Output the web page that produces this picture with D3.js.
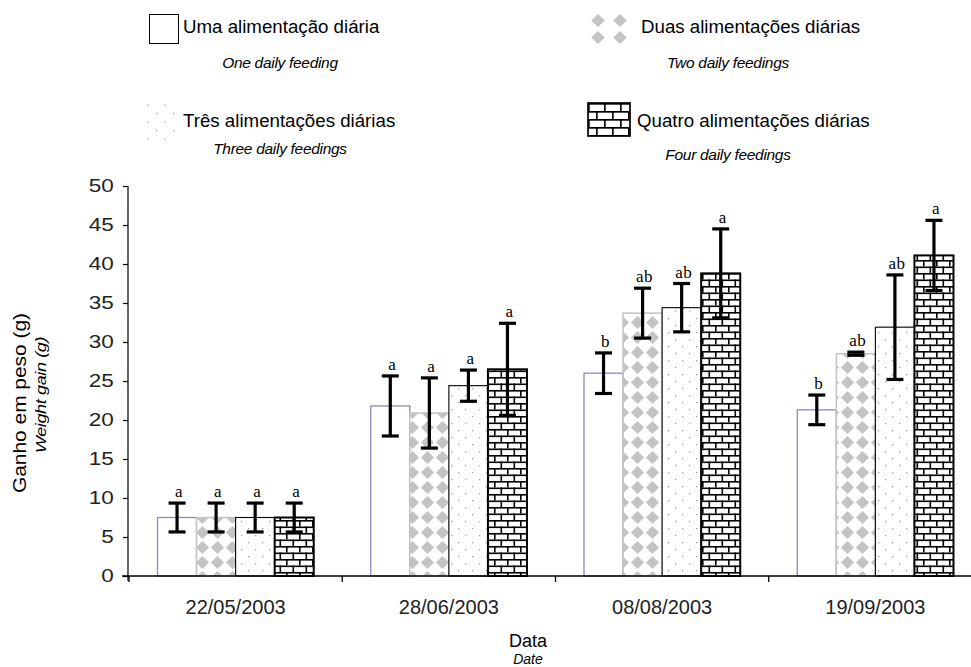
<!DOCTYPE html>
<html>
<head>
<meta charset="utf-8">
<script src="https://cdn.jsdelivr.net/npm/d3@7/dist/d3.min.js"></script>
<style>
  html, body { margin: 0; padding: 0; background: #fff; }
  svg text { font-family: "Liberation Sans", Arial, sans-serif; }
</style>
</head>
<body>
<svg id="chart" width="971" height="667"></svg>
<script>
// ---------- data ----------
const dates = ["22/05/2003", "28/06/2003", "08/08/2003", "19/09/2003"];
const seriesKeys = ["uma", "duas", "tres", "quatro"];
const seriesPT = ["Uma alimentação diária", "Duas alimentações diárias", "Três alimentações diárias", "Quatro alimentações diárias"];
const seriesEN = ["One daily feeding", "Two daily feedings", "Three daily feedings", "Four daily feedings"];

const umaMean    = [7.5, 21.8, 26.0, 21.3];
const duasMean   = [7.5, 20.9, 33.7, 28.5];
const tresMean   = [7.5, 24.4, 34.4, 31.9];
const quatroMean = [7.5, 26.5, 38.8, 41.1];

const umaErr    = [1.85, 3.85, 2.6, 1.9];
const duasErr   = [1.85, 4.5, 3.2, 0.2];
const tresErr   = [1.85, 2.0, 3.1, 6.7];
const quatroErr = [1.85, 5.9, 5.7, 4.5];

const umaLetters    = ["a", "a", "b", "b"];
const duasLetters   = ["a", "a", "ab", "ab"];
const tresLetters   = ["a", "a", "ab", "ab"];
const quatroLetters = ["a", "a", "a", "a"];

const yTicks = [0, 5, 10, 15, 20, 25, 30, 35, 40, 45, 50];

// ---------- build table ----------
const means = [umaMean, duasMean, tresMean, quatroMean];
const errs = [umaErr, duasErr, tresErr, quatroErr];
const letters = [umaLetters, duasLetters, tresLetters, quatroLetters];
const rows = [];
dates.forEach((d, i) => {
  seriesKeys.forEach((k, j) => {
    rows.push({ date: d, key: k, si: j, value: means[j][i], err: errs[j][i], letter: letters[j][i] });
  });
});

const svg = d3.select("#chart");
const defs = svg.append("defs");

// patterns
function pat(id, w, h, ox, oy) {
  const p = defs.append("pattern").attr("id", id).attr("patternUnits", "userSpaceOnUse")
    .attr("width", w).attr("height", h).attr("x", ox || 0).attr("y", oy || 0);
  p.append("rect").attr("width", w).attr("height", h).attr("fill", "#fff");
  return p;
}
// diamonds (rotated checkerboard)
{
  const p = pat("diam", 15, 15, 0, 0);
  const s = 6.6, c = 7.5;
  p.append("path").attr("d", `M${c},${c - s} L${c + s},${c} L${c},${c + s} L${c - s},${c} Z`).attr("fill", "#c4c4c4");
}
// sparse dots
{
  const p = pat("dots", 14, 14, 0, 0);
  p.append("rect").attr("x", 3).attr("y", 3).attr("width", 1.3).attr("height", 1.3).attr("fill", "#a0a0a0");
  p.append("rect").attr("x", 10).attr("y", 10).attr("width", 1.3).attr("height", 1.3).attr("fill", "#a0a0a0");
}
// bricks
function brick(id, w, h, ox, oy, sw) {
  const p = pat(id, w, h, ox, oy);
  const g = p.append("g").attr("stroke", "#000").attr("stroke-width", sw).attr("fill", "none");
  g.append("line").attr("x1", 0).attr("x2", w).attr("y1", sw / 2).attr("y2", sw / 2);
  g.append("line").attr("x1", 0).attr("x2", w).attr("y1", h / 2 + sw / 2).attr("y2", h / 2 + sw / 2);
  g.append("line").attr("x1", sw / 2).attr("x2", sw / 2).attr("y1", 0).attr("y2", h / 2);
  g.append("line").attr("x1", w / 2 + sw / 2).attr("x2", w / 2 + sw / 2).attr("y1", h / 2).attr("y2", h);
}
brick("bricks", 13, 13, 0, 0, 1.6);
brick("bricksLeg", 16, 16, 588, 103, 1.7);
// legend diamonds
{
  const p = pat("diamLeg", 22, 17, 587, 12);
  p.append("path").attr("d", "M11,2 L17.8,8.5 L11,15 L4.2,8.5 Z").attr("fill", "#c4c4c4");
}
// legend dots
{
  const p = pat("dotsLeg", 17, 17, 147, 104);
  p.append("rect").attr("x", 0.5).attr("y", 0.5).attr("width", 1.3).attr("height", 1.3).attr("fill", "#a8a8a8");
  p.append("rect").attr("x", 9).attr("y", 9).attr("width", 1.3).attr("height", 1.3).attr("fill", "#a8a8a8");
}

const fills = { uma: "#ffffff", duas: "url(#diam)", tres: "url(#dots)", quatro: "url(#bricks)" };
const strokes = { uma: "#8a8abf", duas: "#c4c4c4", tres: "#000", quatro: "#000" };
const strokeW = { uma: 1.3, duas: 1.5, tres: 1.1, quatro: 2 };

// ---------- scales ----------
const y = d3.scaleLinear().domain([0, 50]).range([576, 186]);
const x0 = d3.scaleBand().domain(dates).range([129, 982]).padding(0);
const x1 = d3.scaleBand().domain(seriesKeys).range([0, x0.bandwidth()]).paddingInner(0).paddingOuter(0.73);

// ---------- bars ----------
const gBars = svg.append("g");
gBars.selectAll("rect").data(rows).join("rect")
  .attr("x", d => x0(d.date) + x1(d.key))
  .attr("y", d => y(d.value))
  .attr("width", x1.bandwidth())
  .attr("height", d => y(0) - y(d.value))
  .attr("fill", d => fills[d.key])
  .attr("stroke", d => strokes[d.key])
  .attr("stroke-width", d => strokeW[d.key]);

// ---------- error bars ----------
const capW = 17;
const gErr = svg.append("g").attr("stroke", "#000").attr("stroke-width", 3.2);
rows.forEach(d => {
  const cx = x0(d.date) + x1(d.key) + x1.bandwidth() / 2;
  const yt = y(d.value + d.err), yb = y(d.value - d.err);
  gErr.append("line").attr("x1", cx).attr("x2", cx).attr("y1", yt).attr("y2", yb);
  gErr.append("line").attr("x1", cx - capW / 2).attr("x2", cx + capW / 2).attr("y1", yt).attr("y2", yt);
  gErr.append("line").attr("x1", cx - capW / 2).attr("x2", cx + capW / 2).attr("y1", yb).attr("y2", yb);
});

// letters
svg.append("g").selectAll("text").data(rows).join("text")
  .attr("x", d => x0(d.date) + x1(d.key) + x1.bandwidth() / 2 + 2)
  .attr("y", d => y(d.value + d.err) - 6)
  .attr("text-anchor", "middle")
  .style("font-family", "'Liberation Serif', 'Times New Roman', serif")
  .style("font-size", "17px")
  .style("letter-spacing", "0.5px")
  .attr("fill", "#000")
  .text(d => d.letter);

// ---------- axes ----------
const yAxis = d3.axisLeft(y).tickValues(yTicks).tickSize(5).tickPadding(6).tickFormat(d3.format("d"));
const gy = svg.append("g").attr("transform", "translate(128,0)").call(yAxis);
gy.select(".domain").remove();
gy.selectAll(".tick line").attr("stroke", "#000").attr("stroke-width", 1.2);
gy.selectAll(".tick text").style("font-size", "18px").attr("fill", "#222")
  .style("font-family", "'Liberation Sans', Arial, sans-serif")
  .attr("transform", "scale(1.25,1)").attr("x", -10.5 / 1.25 - 3);
svg.append("line").attr("x1", 128).attr("x2", 128).attr("y1", y(50)).attr("y2", y(0) + 5)
  .attr("stroke", "#000").attr("stroke-width", 1.2);

// x axis line
svg.append("line").attr("x1", 122).attr("x2", 971).attr("y1", y(0)).attr("y2", y(0))
  .attr("stroke", "#000").attr("stroke-width", 1.3);
// boundary ticks
const bounds = dates.map(d => x0(d)).concat([x0.range()[1]]);
svg.append("g").selectAll("line").data(bounds).join("line")
  .attr("x1", d => d).attr("x2", d => d).attr("y1", y(0)).attr("y2", y(0) + 6)
  .attr("stroke", "#000").attr("stroke-width", 1.3);
// category labels
svg.append("g").selectAll("text").data(dates).join("text")
  .attr("x", d => x0(d) + x0.bandwidth() / 2)
  .attr("y", 614)
  .attr("text-anchor", "middle")
  .style("font-size", "20px").attr("fill", "#222")
  .text(d => d);

// axis titles
svg.append("text").attr("x", 528).attr("y", 647).attr("text-anchor", "middle")
  .style("font-size", "18px").attr("fill", "#000").text("Data");
svg.append("text").attr("x", 528).attr("y", 664).attr("text-anchor", "middle")
  .style("font-size", "14px").style("font-style", "italic").attr("fill", "#000").text("Date");

svg.append("text").attr("transform", "translate(26,403) rotate(-90) scale(1.1,1)")
  .attr("text-anchor", "middle").style("font-size", "19px").attr("fill", "#000").text("Ganho em peso (g)");
svg.append("text").attr("transform", "translate(46,395) rotate(-90) scale(1.2,1)")
  .attr("text-anchor", "middle").style("font-size", "15px").style("font-style", "italic")
  .style("letter-spacing", "-0.3px").attr("fill", "#000").text("Weight gain (g)");

// ---------- legend ----------
const leg = svg.append("g");
// icons
leg.append("rect").attr("x", 149.5).attr("y", 14.5).attr("width", 29).attr("height", 29)
  .attr("fill", "#fff").attr("stroke", "#000").attr("stroke-width", 1);
leg.append("rect").attr("x", 587).attr("y", 12).attr("width", 44).attr("height", 34).attr("fill", "url(#diamLeg)");
leg.append("rect").attr("x", 145).attr("y", 102).attr("width", 32).attr("height", 40).attr("fill", "url(#dotsLeg)");
leg.append("rect").attr("x", 588).attr("y", 103).attr("width", 42).attr("height", 33)
  .attr("fill", "url(#bricksLeg)").attr("stroke", "#000").attr("stroke-width", 1.7);

const legPT = [
  { t: seriesPT[0], x: 183, y: 33 },
  { t: seriesPT[1], x: 641, y: 33 },
  { t: seriesPT[2], x: 183, y: 127 },
  { t: seriesPT[3], x: 637, y: 127 }
];
const legEN = [
  { t: seriesEN[0], x: 280, y: 68 },
  { t: seriesEN[1], x: 728, y: 68 },
  { t: seriesEN[2], x: 280, y: 154 },
  { t: seriesEN[3], x: 728, y: 160 }
];
leg.selectAll("text.pt").data(legPT).join("text").attr("class", "pt")
  .attr("x", d => d.x).attr("y", d => d.y)
  .style("font-size", "18.7px").attr("fill", "#000").text(d => d.t);
leg.selectAll("text.en").data(legEN).join("text").attr("class", "en")
  .attr("x", d => d.x).attr("y", d => d.y).attr("text-anchor", "middle")
  .style("font-size", "15.5px").style("font-style", "italic").style("letter-spacing", "-0.3px")
  .attr("fill", "#000").text(d => d.t);
</script>
</body>
</html>
